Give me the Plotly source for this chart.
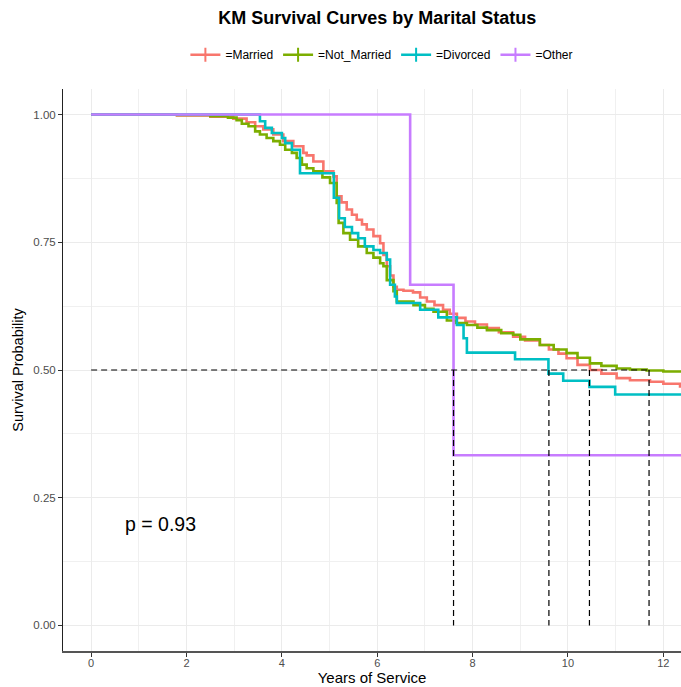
import plotly.graph_objects as go

# ---------------- data ----------------
groups = ["=Married", "=Not_Married", "=Divorced", "=Other"]
colors = ["#F8766D", "#7CAE00", "#00BFC4", "#C77CFF"]

married_t = [0, 1.8, 2.5, 2.98, 3.26, 3.44, 3.61, 3.82, 4.03, 4.24, 4.45, 4.52, 4.66, 4.87, 5.08,
             5.15, 5.25, 5.36, 5.47, 5.57, 5.68, 5.78, 5.92, 6.06, 6.13, 6.2, 6.27, 6.34, 6.41,
             6.55, 6.75, 6.9, 7.04, 7.2, 7.38, 7.52, 7.67, 7.85, 8.05, 8.3, 8.55, 8.85, 9.1,
             9.41, 9.6, 9.8, 9.97, 10.2, 10.46, 10.7, 11.02, 11.3, 11.72, 12.0, 12.35, 12.6]
married_s = [1.0, 0.998, 0.996, 0.992, 0.985, 0.977, 0.971, 0.961, 0.948, 0.938, 0.925, 0.920,
             0.908, 0.889, 0.879, 0.840, 0.828, 0.814, 0.804, 0.794, 0.785, 0.775, 0.762, 0.748,
             0.725, 0.703, 0.685, 0.663, 0.657, 0.655, 0.652, 0.642, 0.634, 0.627, 0.618, 0.610,
             0.602, 0.595, 0.589, 0.582, 0.574, 0.565, 0.558, 0.549, 0.540, 0.532, 0.523, 0.510,
             0.500, 0.493, 0.484, 0.480, 0.477, 0.473, 0.468, 0.468]

notmar_t = [0, 1.8, 2.5, 2.87, 3.05, 3.16, 3.3, 3.44, 3.54, 3.68, 3.82, 3.96, 4.07, 4.21, 4.31,
            4.42, 4.52, 4.66, 4.85, 5.01, 5.15, 5.19, 5.29, 5.43, 5.6, 5.78, 5.92, 6.06, 6.13,
            6.2, 6.34, 6.41, 6.76, 7.0, 7.18, 7.46, 7.65, 7.88, 8.1, 8.3, 8.6, 8.85, 9.0, 9.41,
            9.7, 9.97, 10.2, 10.46, 10.7, 11.02, 11.3, 11.65, 12.0, 12.6]
notmar_s = [1.0, 0.999, 0.997, 0.994, 0.989, 0.982, 0.977, 0.967, 0.961, 0.954, 0.948, 0.941,
            0.931, 0.925, 0.915, 0.902, 0.895, 0.889, 0.877, 0.866, 0.827, 0.788, 0.768, 0.755,
            0.742, 0.729, 0.720, 0.709, 0.703, 0.676, 0.654, 0.634, 0.627, 0.620, 0.614, 0.597,
            0.592, 0.588, 0.583, 0.578, 0.572, 0.569, 0.560, 0.549, 0.540, 0.533, 0.524, 0.513,
            0.508, 0.503, 0.501, 0.499, 0.497, 0.497]

divorced_t = [0, 3.49, 3.54, 3.65, 3.79, 4.0, 4.07, 4.21, 4.38, 5.09, 5.2, 5.32, 5.47, 5.6, 5.74,
              5.92, 6.06, 6.2, 6.27, 6.37, 6.41, 6.9, 7.28, 7.67, 7.81, 7.88, 8.89, 9.59, 9.9,
              10.45, 10.99, 12.6]
divorced_s = [1.0, 1.0, 0.987, 0.974, 0.964, 0.954, 0.944, 0.931, 0.885, 0.837, 0.797, 0.780,
              0.768, 0.758, 0.742, 0.735, 0.729, 0.716, 0.667, 0.644, 0.631, 0.618, 0.603, 0.588,
              0.562, 0.534, 0.521, 0.493, 0.479, 0.467, 0.452, 0.452]

other_t = [0, 6.69, 7.6, 12.6]
other_s = [1.0, 0.667, 0.333, 0.333]

medians = [10.45, 11.7, 9.6, 7.6]
p_value_text = "p = 0.93"

x_ticks = [0, 2, 4, 6, 8, 10, 12]
y_ticks = [0.0, 0.25, 0.5, 0.75, 1.0]

series = [(married_t, married_s), (notmar_t, notmar_s), (divorced_t, divorced_s), (other_t, other_s)]

# ---------------- figure ----------------
fig = go.Figure()
FONT = "Liberation Sans, Arial, sans-serif"

for name, col, (t, s) in zip(groups, colors, series):
    fig.add_trace(go.Scatter(x=t, y=s, mode="lines", line=dict(color=col, width=2.6, shape="hv"),
                             name=name, showlegend=False, hoverinfo="skip"))

# legend-only entries (line with censor cross)
for name, col in zip(groups, colors):
    fig.add_trace(go.Scatter(x=[None], y=[None], mode="lines+markers", name=name,
                             line=dict(color=col, width=2.6),
                             marker=dict(symbol="line-ns-open", size=10, color=col,
                                         line=dict(color=col, width=2)),
                             showlegend=True))

# median lines
DASH = dict(color="black", width=1.2, dash="6px,4px")
fig.add_trace(go.Scatter(x=[0, max(medians)], y=[0.5, 0.5], mode="lines",
                         line=DASH, showlegend=False, hoverinfo="skip"))
for m in medians:
    fig.add_trace(go.Scatter(x=[m, m], y=[0.5, 0], mode="lines",
                             line=DASH, showlegend=False, hoverinfo="skip"))

fig.add_annotation(x=1.45, y=0.198, xref="x", yref="y", text=p_value_text, showarrow=False,
                   font=dict(family=FONT, size=19.5, color="black"))

fig.update_layout(
    width=681, height=687,
    margin=dict(l=63, r=0, t=89, b=36),
    paper_bgcolor="white", plot_bgcolor="white",
    font=dict(family=FONT, color="black"),
    title=dict(text="<b>KM Survival Curves by Marital Status</b>", x=0.554, xanchor="center",
               y=0.974, yanchor="middle", font=dict(family=FONT, size=18, color="black")),
    legend=dict(orientation="h", x=0.516, xanchor="center", y=1.061, yanchor="middle",
                font=dict(family=FONT, size=12, color="black"), itemwidth=30,
                bgcolor="rgba(0,0,0,0)"),
)

fig.update_xaxes(range=[-0.59, 12.37], tickvals=x_ticks, ticktext=[str(v) for v in x_ticks],
                 showgrid=True, gridcolor="#EBEBEB", gridwidth=1,
                 minor=dict(dtick=1, tick0=0, showgrid=True, gridcolor="#F0F0F0", gridwidth=0.7),
                 showline=True, linecolor="#555555", linewidth=1.6, zeroline=False,
                 ticks="outside", ticklen=4, tickcolor="#333333", tickwidth=1,
                 ticklabelstandoff=-3,
                 tickfont=dict(family=FONT, size=11, color="#4D4D4D"),
                 title=dict(text="Years of Service", font=dict(family=FONT, size=15, color="black"),
                            standoff=0))
fig.update_yaxes(range=[-0.05, 1.05], tickvals=y_ticks, ticktext=[f"{v:.2f}" for v in y_ticks],
                 showgrid=True, gridcolor="#EBEBEB", gridwidth=1,
                 minor=dict(dtick=0.125, tick0=0, showgrid=True, gridcolor="#F0F0F0", gridwidth=0.7),
                 showline=True, linecolor="#222222", linewidth=1, zeroline=False,
                 ticks="outside", ticklen=4, tickcolor="#333333", tickwidth=1,
                 tickfont=dict(family=FONT, size=11.5, color="#4D4D4D"),
                 title=dict(text="Survival Probability", font=dict(family=FONT, size=14.5, color="black"),
                            standoff=6))

fig.write_html("out.html")
